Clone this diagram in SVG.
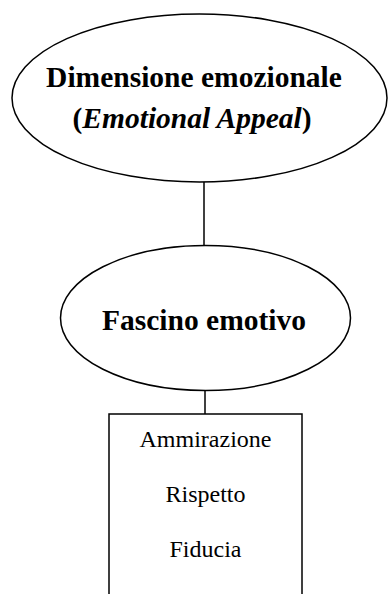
<svg xmlns="http://www.w3.org/2000/svg" width="388" height="594" viewBox="0 0 388 594">
  <style>
    .shape { fill: #ffffff; stroke: #000000; stroke-width: 1.5; }
    .link { stroke: #000000; stroke-width: 1.5; fill: none; }
    .title { font-family: "Liberation Serif", "Times New Roman", serif; font-weight: bold; font-size: 29.5px; fill: #000000; text-anchor: middle; }
    .item { font-family: "Liberation Serif", "Times New Roman", serif; font-size: 24px; fill: #000000; text-anchor: middle; }
  </style>
  <rect width="388" height="594" fill="#ffffff"/>
  <g id="connectors">
    <line class="link" x1="204" y1="182" x2="204" y2="245"/>
    <line class="link" x1="205" y1="390" x2="205" y2="414"/>
  </g>
  <g id="emotional-appeal">
    <ellipse class="shape" cx="199.5" cy="98" rx="187.5" ry="84"/>
    <text class="title" x="194" y="87">Dimensione emozionale</text>
    <text class="title" x="192" y="128">(<tspan font-style="italic">Emotional Appeal</tspan>)</text>
  </g>
  <g id="fascino-emotivo">
    <ellipse class="shape" cx="205.5" cy="318" rx="145" ry="72.5"/>
    <text class="title" x="204" y="330">Fascino emotivo</text>
  </g>
  <g id="componenti">
    <rect class="shape" x="109" y="414" width="193" height="190"/>
    <text class="item" x="205.5" y="447">Ammirazione</text>
    <text class="item" x="205.5" y="502">Rispetto</text>
    <text class="item" x="205.5" y="557">Fiducia</text>
  </g>
</svg>
